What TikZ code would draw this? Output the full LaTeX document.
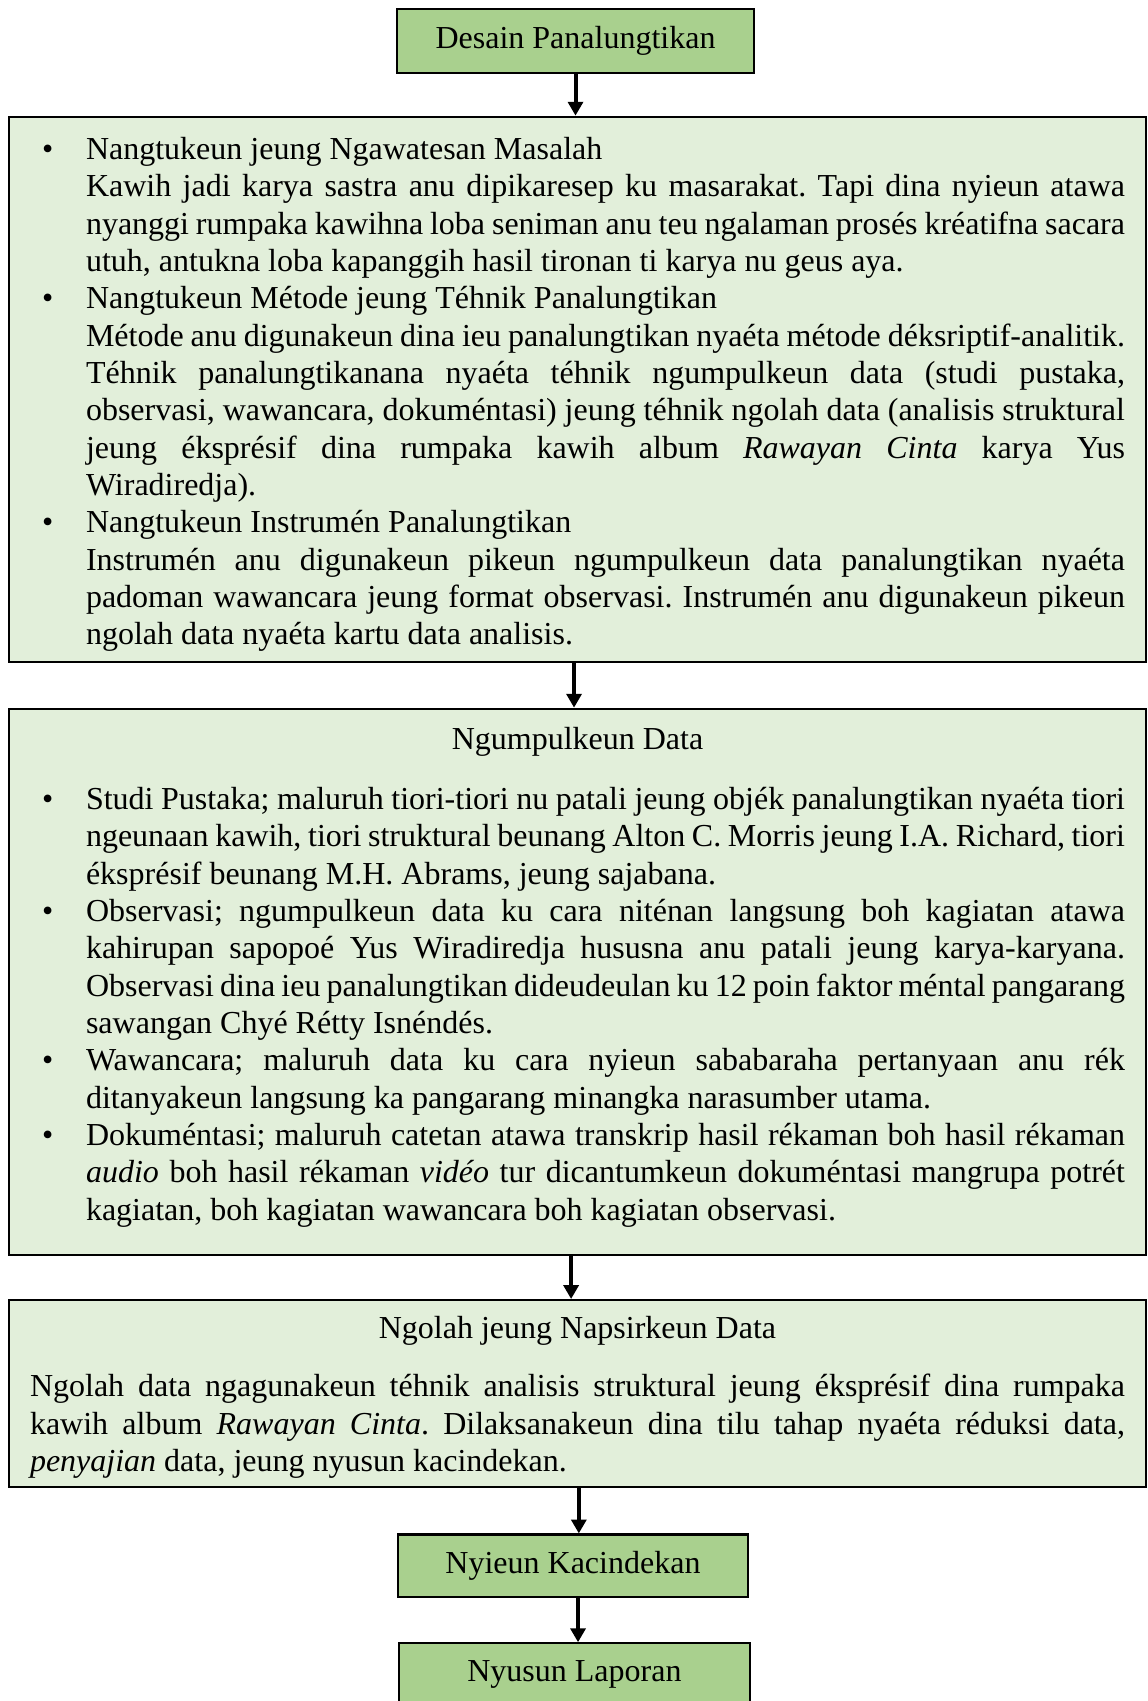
\documentclass[tikz,border=0pt]{standalone}
\usepackage{fontspec}
\setmainfont{Liberation Serif}
\usetikzlibrary{arrows.meta,positioning}
\definecolor{stagegreen}{HTML}{A9D08E}
\definecolor{panelgreen}{HTML}{E2EFDA}
\newcommand{\panelsetup}{\parindent=0pt\rightskip=0pt\spaceskip=0pt\xspaceskip=0pt\parfillskip=0pt plus 1fil\hyphenpenalty=10000\exhyphenpenalty=10000\tolerance=9999\hbadness=10000\frenchspacing}
\newcommand{\pointitem}{\par\hangindent=21pt\hangafter=0\noindent\llap{\textbullet\hspace{12.3pt}}}

\begin{document}
\begin{tikzpicture}[
    x=0.375pt, y=0.375pt,
    node distance=16.6pt,
    stagebox/.style={draw, line width=0.8pt, fill=stagegreen, minimum width=133.9pt, minimum height=24pt, inner sep=2pt, font=\fontsize{12}{14}\selectfont},
    panel/.style={draw, line width=0.8pt, fill=panelgreen, text width=410.6pt, text justified, inner xsep=7.9pt, inner ysep=2pt, font=\fontsize{12}{14}\selectfont},
    arrow/.style={-{Triangle[width=5.6pt,length=5.2pt]}, line width=1.5pt}
]
    \useasboundingbox (0,0) rectangle (1147,-1701);

    \node[stagebox] (design) at (575.5,-41) {Desain Panalungtikan};

    \node[panel, minimum height=204.4pt, below=15.6pt of design, xshift=0.75pt] (plan) {\panelsetup
        \pointitem Nangtukeun jeung Ngawatesan Masalah\newline
        Kawih jadi karya sastra anu dipikaresep ku masarakat. Tapi dina nyieun atawa\linebreak
        nyanggi rumpaka kawihna loba seniman anu teu ngalaman prosés kréatifna sacara\linebreak
        utuh, antukna loba kapanggih hasil tironan ti karya nu geus aya.
        \pointitem Nangtukeun Métode jeung Téhnik Panalungtikan\newline
        Métode anu digunakeun dina ieu panalungtikan nyaéta métode déksriptif-analitik.\linebreak
        Téhnik panalungtikanana nyaéta téhnik ngumpulkeun data (studi pustaka,\linebreak
        observasi, wawancara, dokuméntasi) jeung téhnik ngolah data (analisis struktural\linebreak
        jeung éksprésif dina rumpaka kawih album \textit{Rawayan Cinta} karya Yus\linebreak
        Wiradiredja).
        \pointitem Nangtukeun Instrumén Panalungtikan\newline
        Instrumén anu digunakeun pikeun ngumpulkeun data panalungtikan nyaéta\linebreak
        padoman wawancara jeung format observasi. Instrumén anu digunakeun pikeun\linebreak
        ngolah data nyaéta kartu data analisis.\rule[-4.6pt]{0pt}{4.6pt}\par};

    \node[panel, minimum height=204.75pt, below=of plan] (collect) {\panelsetup
        {\centering Ngumpulkeun Data\par}\vspace{8.6pt}
        \pointitem Studi Pustaka; maluruh tiori-tiori nu patali jeung objék panalungtikan nyaéta tiori\linebreak
        ngeunaan kawih, tiori struktural beunang Alton C. Morris jeung I.A. Richard, tiori\linebreak
        éksprésif beunang M.H. Abrams, jeung sajabana.
        \pointitem Observasi; ngumpulkeun data ku cara niténan langsung boh kagiatan atawa\linebreak
        kahirupan sapopoé Yus Wiradiredja hususna anu patali jeung karya-karyana.\linebreak
        Observasi dina ieu panalungtikan dideudeulan ku 12 poin faktor méntal pangarang\linebreak
        sawangan Chyé Rétty Isnéndés.
        \pointitem Wawancara; maluruh data ku cara nyieun sababaraha pertanyaan anu rék\linebreak
        ditanyakeun langsung ka pangarang minangka narasumber utama.
        \pointitem Dokuméntasi; maluruh catetan atawa transkrip hasil rékaman boh hasil rékaman\linebreak
        \textit{audio} boh hasil rékaman \textit{vidéo} tur dicantumkeun dokuméntasi mangrupa potrét\linebreak
        kagiatan, boh kagiatan wawancara boh kagiatan observasi.\rule[-6pt]{0pt}{6pt}\par};

    \node[panel, minimum height=70.1pt, below=16.2pt of collect] (process) {\panelsetup
        {\centering\rule{0pt}{11pt}Ngolah jeung Napsirkeun Data\par}\vspace{8pt}
        \noindent Ngolah data ngagunakeun téhnik analisis struktural jeung éksprésif dina rumpaka\linebreak
        kawih album \textit{Rawayan Cinta}. Dilaksanakeun dina tilu tahap nyaéta réduksi data,\linebreak
        \textit{penyajian} data, jeung nyusun kacindekan.\par};

    \node[stagebox, minimum width=131.25pt, minimum height=23.6pt, below=17pt of process, xshift=-1.7pt] (conclude) {Nyieun Kacindekan};
    \node[stagebox, minimum width=131.6pt, minimum height=23.6pt, below=16.4pt of conclude, xshift=0.55pt] (report) {Nyusun Laporan};

    \draw[arrow] (design.south) -- (design.south |- plan.north);
    \draw[arrow] ([xshift=-1.3pt]plan.south) -- ([xshift=-1.3pt]plan.south |- collect.north);
    \draw[arrow] ([xshift=-2.4pt]collect.south) -- ([xshift=-2.4pt]collect.south |- process.north);
    \draw[arrow] ([xshift=0.5pt]process.south) -- ([xshift=0.5pt]process.south |- conclude.north);
    \draw[arrow] ([xshift=1.9pt]conclude.south) -- ([xshift=1.9pt]conclude.south |- report.north);
\end{tikzpicture}
\end{document}
